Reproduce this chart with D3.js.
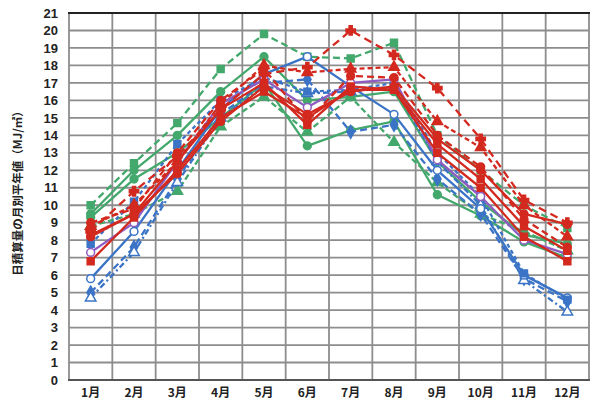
<!DOCTYPE html>
<html><head><meta charset="utf-8">
<script src="https://cdn.jsdelivr.net/npm/d3@7"></script>
<style>body{margin:0;background:#fff}svg{display:block}</style>
</head><body>
<svg id="c" width="595" height="408"></svg>
<script>
const months = ["1月","2月","3月","4月","5月","6月","7月","8月","9月","10月","11月","12月"];
const yTicks = d3.range(0, 22);
const yLabel = "日積算量の月別平年値（MJ/㎡）";

// series values (MJ/㎡)
const g1 = [10.0,12.4,14.7,17.8,19.8,18.5,18.4,19.3,14.0,12.0,10.0,8.7];
const g2 = [9.5,12.0,14.0,16.5,18.5,16.0,16.2,16.5,12.5,10.2,8.3,7.8];
const g3 = [9.3,11.5,13.0,15.0,17.0,13.4,14.3,14.8,10.6,9.4,7.9,7.0];
const g4 = [8.8,9.5,10.8,14.5,16.2,14.2,16.2,13.6,11.3,9.5,8.5,7.4];
const b1 = [5.8,8.5,12.0,15.5,17.5,18.5,16.8,15.2,12.0,9.8,6.0,4.7];
const b2 = [5.0,7.6,11.5,15.2,17.0,17.2,14.2,14.6,11.5,9.5,5.8,4.5];
const b3 = [4.7,7.3,11.3,15.0,16.8,16.4,16.5,16.8,12.5,10.0,5.7,3.9];
const b4 = [7.8,10.2,13.5,16.0,17.3,16.5,16.6,17.0,13.0,10.5,6.1,4.6];
const p1 = [7.3,9.0,12.5,15.8,17.2,15.6,17.0,17.2,12.6,10.5,8.0,7.2];
const r1 = [8.5,10.8,12.8,15.5,17.5,17.9,20.0,18.6,16.7,13.8,10.3,9.0];
const r2 = [8.8,10.0,12.5,15.8,18.0,17.6,17.8,17.9,14.8,13.3,10.0,8.2];
const r3 = [6.8,9.3,12.0,15.0,16.5,15.0,16.6,16.6,13.0,11.0,8.2,6.8];
const r4 = [8.2,9.5,11.8,14.8,16.8,15.2,16.5,16.8,13.8,12.0,9.5,8.9];
const r5 = [9.0,9.8,13.0,16.0,17.8,14.8,17.4,17.3,14.0,12.2,9.2,7.6];
const r6 = [8.3,9.5,12.5,15.5,17.0,14.6,16.8,16.6,13.5,11.5,8.8,7.4];

const GREEN = "#43a86c", BLUE = "#3b74c6", RED = "#d3291f", PURPLE = "#8e5cc0";
const series = [
  {v:g3, c:GREEN, dash:null, sym:d3.symbolCircle, hollow:false},
  {v:g4, c:GREEN, dash:"6,3", sym:d3.symbolTriangle, hollow:false},
  {v:g2, c:GREEN, dash:null, sym:d3.symbolCircle, hollow:false},
  {v:g1, c:GREEN, dash:"7,4", sym:d3.symbolSquare, hollow:false},
  {v:b2, c:BLUE, dash:"7,4", sym:d3.symbolDiamond, hollow:false},
  {v:b3, c:BLUE, dash:"6,3,2,3", sym:d3.symbolTriangle, hollow:true},
  {v:b1, c:BLUE, dash:null, sym:d3.symbolCircle, hollow:true},
  {v:b4, c:BLUE, dash:"4,3", sym:d3.symbolSquare, hollow:false},
  {v:p1, c:PURPLE, dash:null, sym:d3.symbolCircle, hollow:true},
  {v:r3, c:RED, dash:null, sym:d3.symbolSquare, hollow:false},
  {v:r6, c:RED, dash:null, sym:d3.symbolSquare, hollow:false},
  {v:r4, c:RED, dash:null, sym:d3.symbolCircle, hollow:false},
  {v:r5, c:RED, dash:"7,4", sym:d3.symbolCircle, hollow:false},
  {v:r2, c:RED, dash:"5,3", sym:d3.symbolTriangle, hollow:false},
  {v:r1, c:RED, dash:"8,5", sym:d3.symbolCross, hollow:false}
];

const svg = d3.select("#c");
const L = 69, R = 589, T = 13, B = 380;
const x = d3.scaleBand().domain(months).range([L, R]);
const y = d3.scaleLinear().domain([0, 21]).range([B, T]);

// grid
const grid = svg.append("g");
grid.selectAll("line.h").data(yTicks).join("line")
  .attr("x1", L).attr("x2", R).attr("y1", d => y(d)).attr("y2", d => y(d))
  .attr("stroke", "#8d8d8d").attr("stroke-width", 1.8);
const vb = months.map(m => x(m)).concat([R]);
grid.selectAll("line.v").data(vb).join("line")
  .attr("x1", d => d).attr("x2", d => d).attr("y1", T).attr("y2", B)
  .attr("stroke", "#8d8d8d").attr("stroke-width", 1.8);
svg.append("line").attr("x1", L-1).attr("x2", R+1).attr("y1", y(21)).attr("y2", y(21))
  .attr("stroke", "#222").attr("stroke-width", 2);
svg.append("line").attr("x1", L-1).attr("x2", R+1).attr("y1", y(0)).attr("y2", y(0))
  .attr("stroke", "#555").attr("stroke-width", 2);

// axes
const yAxis = d3.axisLeft(y).tickValues(yTicks).tickSize(0).tickPadding(11).tickFormat(d3.format("d"));
const ya = svg.append("g").attr("transform", `translate(${L},0)`).call(yAxis);
ya.select(".domain").remove();
ya.selectAll("text").attr("font-family", "Liberation Sans, Arial, sans-serif")
  .attr("font-weight", "bold").attr("font-size", 13).attr("fill", "#222");

const xAxis = d3.axisBottom(x).tickSize(0).tickPadding(8);
const xa = svg.append("g").attr("transform", `translate(0,${B})`).call(xAxis);
xa.select(".domain").remove();
xa.selectAll("text").attr("font-family", "Noto Sans CJK JP, sans-serif")
  .attr("font-weight", "bold").attr("font-size", 12).attr("fill", "#222");

svg.append("text").attr("transform", `translate(19,${(T+B)/2 - 6}) rotate(-90)`)
  .attr("text-anchor", "middle").attr("dominant-baseline", "middle")
  .attr("font-family", "Noto Sans CJK JP, sans-serif")
  .attr("font-weight", "bold").attr("font-size", 11.5).attr("fill", "#222").text(yLabel);

// lines
const line = d3.line().x((d, i) => x(months[i]) + x.bandwidth() / 2).y(d => y(d));
const sg = svg.append("g");
series.forEach(s => {
  sg.append("path").datum(s.v).attr("d", line).attr("fill", "none")
    .attr("stroke", s.c).attr("stroke-width", 2.3).attr("stroke-dasharray", s.dash)
    .attr("stroke-linejoin", "round");
  sg.selectAll(null).data(s.v).join("path")
    .attr("transform", (d, i) => `translate(${x(months[i]) + x.bandwidth() / 2},${y(d)})`)
    .attr("d", d3.symbol().type(s.sym).size(48))
    .attr("fill", s.hollow ? "#fff" : s.c).attr("stroke", s.c).attr("stroke-width", 1.5);
});
</script>
</body></html>
